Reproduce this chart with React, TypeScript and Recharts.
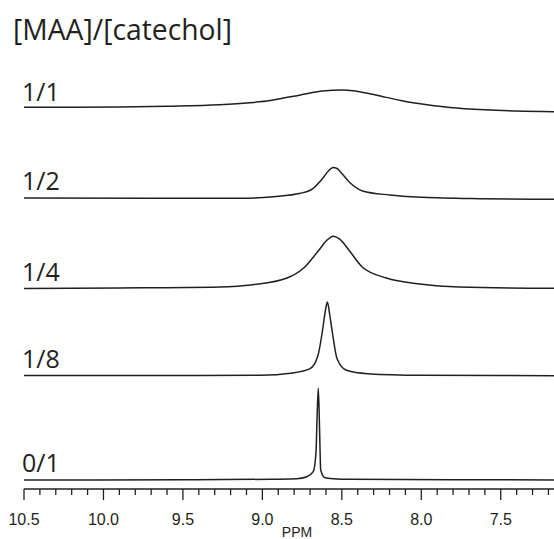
import React from 'react';
import { ComposedChart, Line, XAxis, YAxis } from 'recharts';

// ---- data (ppm, intensity in arbitrary units above each trace's baseline) ----
const ppm11 = [10.5, 10.2, 9.9, 9.6, 9.27, 9.08, 8.95, 8.85, 8.76, 8.7, 8.62, 8.5, 8.43, 8.39, 8.3, 8.24, 8.13, 8.03, 7.92, 7.82, 7.6, 7.4, 7.165];
const int11 = [4.8, 4.7, 5, 5.8, 7.3, 9.3, 11.5, 14.5, 17, 19, 21, 22, 21.3, 20.3, 17.5, 15.3, 11.5, 8.7, 6.2, 4.5, 2.2, 1, 0.3];

const ppm12 = [10.5, 9.7, 9.14, 8.93, 8.76, 8.68, 8.62, 8.585, 8.555, 8.53, 8.51, 8.445, 8.37, 8.2, 7.99, 7.63, 7.165];
const int12 = [1.5, 1.3, 1.2, 2.8, 6.2, 11.2, 21.2, 28.5, 32, 31, 27.8, 16.2, 8.5, 4.5, 2.2, 0.8, 0.2];

const ppm14 = [10.5, 9.9, 9.27, 9.06, 8.845, 8.74, 8.65, 8.59, 8.555, 8.51, 8.45, 8.37, 8.22, 8.01, 7.76, 7.165];
const int14 = [0.5, 1, 2, 4.3, 11, 21, 37.7, 49.3, 52.7, 49.3, 37.7, 21.7, 11, 5, 2, 0.7];

const ppm18 = [10.5, 9.71, 9.015, 8.81, 8.7, 8.65, 8.62, 8.605, 8.591, 8.577, 8.56, 8.53, 8.47, 8.34, 8.01, 7.165];
const int18 = [0.5, 0.5, 0.7, 3, 7.3, 20.7, 47.3, 64, 74, 62, 44, 17.3, 5.7, 2.3, 0.7, 0.3];

const ppm01 = [10.5, 9.5, 8.95, 8.784, 8.72, 8.68, 8.663, 8.655, 8.648, 8.64, 8.633, 8.606, 8.532, 8.45, 7.8, 7.165];
const int01 = [0, 0.3, 0.7, 1.3, 3.3, 8.3, 26.7, 67, 91.7, 50, 10, 2.3, 1, 0.7, 0.3, 0];

const seriesLabels = ['1/1', '1/2', '1/4', '1/8', '0/1'];
const majorTickLabels = ['10.5', '10.0', '9.5', '9.0', '8.5', '8.0', '7.5'];
const titleText = '[MAA]/[catechol]';
const axisTitle = 'PPM';

// ---- layout ----
const W = 554;
const H = 539;
const PLOT_LEFT = 24;
const AXIS_Y = 489;
const X_DOMAIN: [number, number] = [7.165, 10.5];
const baselines = [112, 199.5, 289, 376, 480];
const labelBaselines = [101, 190, 281, 368, 472];
const INK = '#231f20';

const rawSeries = [
  [ppm11, int11],
  [ppm12, int12],
  [ppm14, int14],
  [ppm18, int18],
  [ppm01, int01],
];

const series = rawSeries.map(([p, v], k) => ({
  label: seriesLabels[k],
  data: p.map((x, i) => ({ ppm: x, v: v[i] })),
}));

const majorValues = majorTickLabels.map(Number);
const allTicks: number[] = [];
for (let t = 72; t <= 105; t++) allTicks.push(t / 10);

const isMajor = (v: number) => majorValues.some((m) => Math.abs(m - v) < 1e-6);

const Tick = (props: any) => {
  const { x, y, payload } = props;
  const v = payload.value as number;
  const major = isMajor(v);
  const lbl = major ? majorTickLabels[majorValues.findIndex((m) => Math.abs(m - v) < 1e-6)] : '';
  return (
    <g>
      <line x1={x} x2={x} y1={y} y2={y + (major ? 11 : 6)} stroke={INK} strokeWidth={1.3} />
      {major && (
        <text x={x} y={y + 36} textAnchor="middle" fontFamily="'Liberation Sans', Arial, sans-serif" fontSize={16} fill={INK}>
          {lbl}
        </text>
      )}
    </g>
  );
};

export default function App() {
  return (
    <div style={{ position: 'absolute', left: 0, top: 0, width: W, height: H, background: '#fff', overflow: 'hidden' }}>
      <ComposedChart width={W} height={H} margin={{ top: 0, right: 0, left: PLOT_LEFT, bottom: 0 }}>
        <XAxis
          dataKey="ppm"
          type="number"
          domain={X_DOMAIN}
          reversed
          allowDataOverflow
          ticks={allTicks}
          interval={0}
          tickSize={0}
          tickMargin={0}
          tickLine={false}
          tick={<Tick />}
          axisLine={{ stroke: INK, strokeWidth: 1.4 }}
          height={H - AXIS_Y}
        />
        {series.map((s, k) => (
          <YAxis
            key={'y' + k}
            yAxisId={k}
            hide
            type="number"
            domain={[baselines[k] - AXIS_Y, baselines[k]]}
            allowDataOverflow
          />
        ))}
        {series.map((s, k) => (
          <Line
            key={'l' + k}
            yAxisId={k}
            data={s.data}
            dataKey="v"
            type="monotone"
            stroke={INK}
            strokeWidth={1.5}
            dot={false}
            activeDot={false}
            isAnimationActive={false}
          />
        ))}
      </ComposedChart>
      <svg width={W} height={H} style={{ position: 'absolute', left: 0, top: 0, pointerEvents: 'none' }}>
        <text x={13} y={40} fontFamily="'Open Sans', sans-serif" fontSize={28.3} fill={INK}>
          {titleText}
        </text>
        {series.map((s, k) => (
          <text key={'t' + k} x={22} y={labelBaselines[k]} fontFamily="'Open Sans', sans-serif" fontSize={25} fill={INK}>
            {s.label}
          </text>
        ))}
        <text x={297} y={537} textAnchor="middle" fontFamily="'Liberation Sans', Arial, sans-serif" fontSize={14} fill={INK}>
          {axisTitle}
        </text>
      </svg>
    </div>
  );
}
